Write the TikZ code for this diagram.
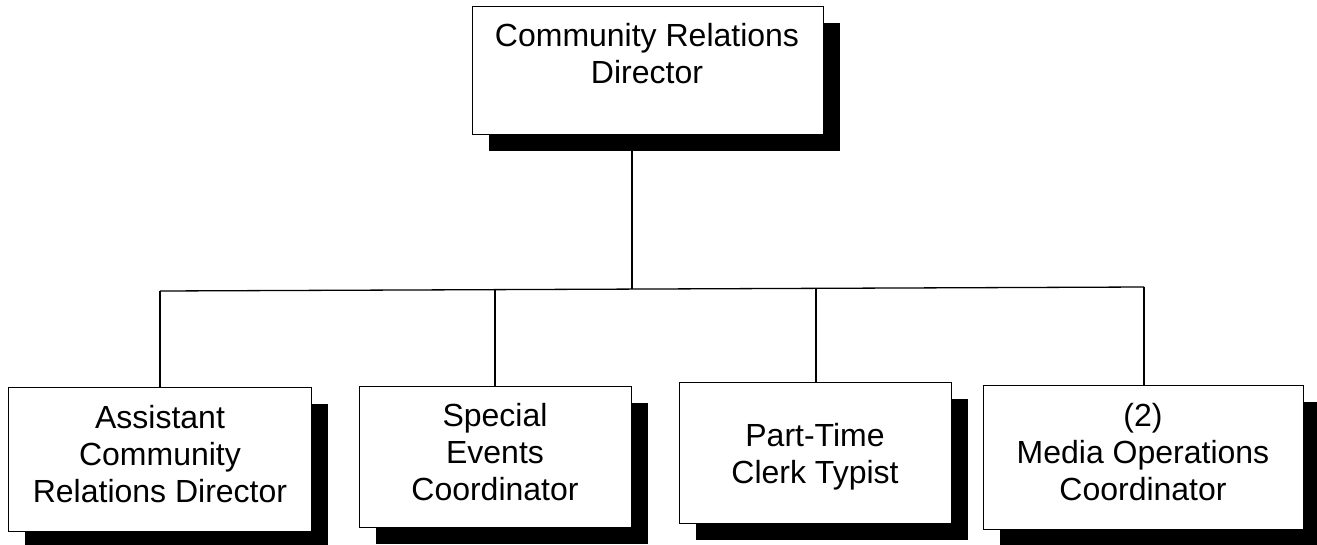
\documentclass[tikz,border=0pt]{standalone}
\usepackage{fontspec}
\setmainfont{Liberation Sans}
\usetikzlibrary{shadows}
\begin{document}
\begin{tikzpicture}[x=1pt,y=-1pt,
  box/.style={draw=black, line width=1.2pt, fill=white, inner sep=0pt, anchor=north west,
    drop shadow={shadow xshift=16pt, shadow yshift=-16pt, fill=black, opacity=1}},
  lbl/.style={align=center, font=\fontsize{32}{36.8}\selectfont, inner sep=0pt, anchor=base},
  conn/.style={draw=black, line width=1.3pt}]
\useasboundingbox (0,0) rectangle (1317,544);
% boxes
\node[box, minimum width=351pt, minimum height=128pt] (dir) at (472,6) {};
\node[box, minimum width=303pt, minimum height=144pt] (b1) at (8,387) {};
\node[box, minimum width=272pt, minimum height=141pt] (b2) at (359,386) {};
\node[box, minimum width=272pt, minimum height=141pt] (b3) at (679,382) {};
\node[box, minimum width=320pt, minimum height=144pt] (b4) at (983,385) {};
% labels (anchored at the baseline of the last line)
\node[lbl] (tdir) at (647,83) {Community Relations\\Director};
\node[lbl] (tb1) at (160,502) {Assistant\\Community\\Relations Director};
\node[lbl] (tb2) at (495,500) {Special\\Events\\Coordinator};
\node[lbl] (tb3) at (815,483) {Part-Time\\Clerk Typist};
\node[lbl] (tb4) at (1143,500) {(2)\\Media Operations\\Coordinator};
% connectors
\coordinate (bus) at (632,289.1);
\coordinate (j1) at (160,291);
\coordinate (j2) at (495,289.6);
\coordinate (j3) at (816,288.3);
\coordinate (j4) at (1144,287);
\draw[conn] (dir.south -| bus) -- (bus);
\draw[conn] (j1) -- (j4);
\draw[conn] (j1) -- (j1 |- b1.north);
\draw[conn] (j2) -- (j2 |- b2.north);
\draw[conn] (j3) -- (j3 |- b3.north);
\draw[conn] (j4) -- (j4 |- b4.north);
\end{tikzpicture}
\end{document}
